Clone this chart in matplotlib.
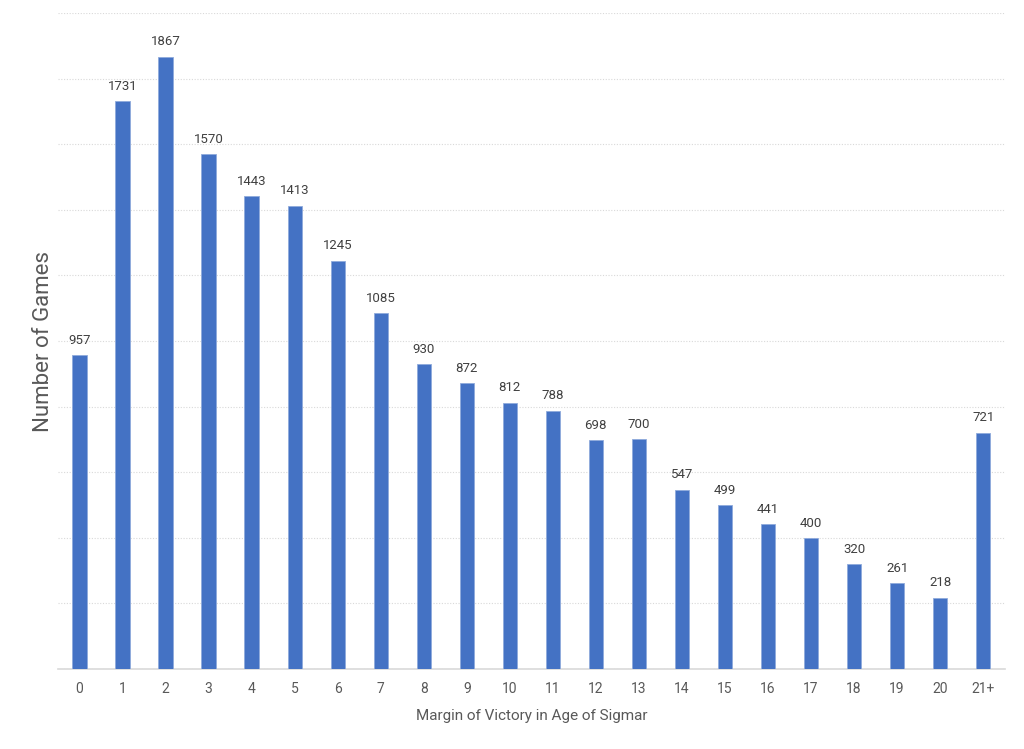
import matplotlib
matplotlib.use("Agg")
import matplotlib.pyplot as plt
import numpy as np

# data
categories = [str(i) for i in range(21)] + ["21+"]
games = [957, 1731, 1867, 1570, 1443, 1413, 1245, 1085, 930, 872, 812, 788,
         698, 700, 547, 499, 441, 400, 320, 261, 218, 721]

plt.rcParams['font.family'] = ['Roboto', 'DejaVu Sans']

fig = plt.figure(figsize=(10.24, 7.49), dpi=100)
ax = fig.add_axes([0.0566, 0.1068, 0.9245, 0.8758])

x = np.arange(len(categories))
bars = ax.bar(x, games, width=0.33, color='#4472C4', edgecolor='#8FAADC', linewidth=0.6, zorder=3)

for xi, v in zip(x, games):
    ax.text(xi, v + 25, str(v), ha='center', va='bottom', fontsize=9.5, color='#404040')

ax.set_xlim(-0.5, len(categories) - 0.5)
ax.set_ylim(0, 2000)
ax.set_yticks(np.arange(0, 2001, 200))
ax.yaxis.grid(True, linestyle=(0, (1, 1.5)), color='#d9d9d9', linewidth=0.8, zorder=0)
ax.tick_params(axis='y', left=False, labelleft=False)
ax.set_xticks(x)
ax.set_xticklabels(categories, fontsize=10, color='#595959')
ax.tick_params(axis='x', length=0, pad=9)

for s in ['top', 'right', 'left']:
    ax.spines[s].set_visible(False)
ax.spines['bottom'].set_color('#d9d9d9')
ax.spines['bottom'].set_linewidth(1.2)

ax.set_xlabel('Margin of Victory in Age of Sigmar', fontsize=11, color='#595959', labelpad=10)
ax.set_ylabel('Number of Games', fontsize=16, color='#595959', labelpad=3)

fig.savefig('out.png', dpi=100)
